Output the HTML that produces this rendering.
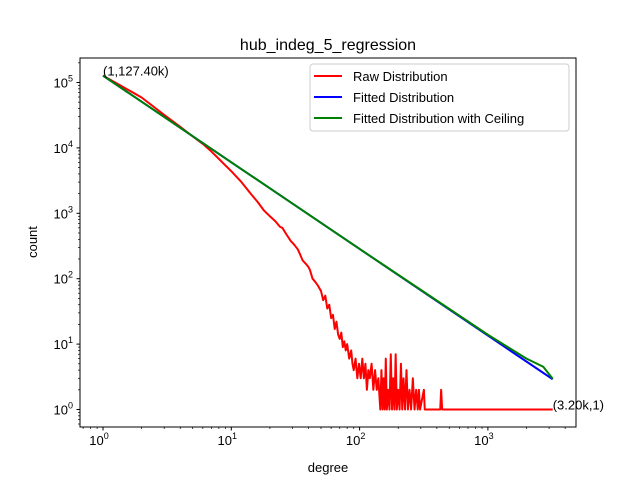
<!DOCTYPE html>
<html><head><meta charset="utf-8"><style>
body{margin:0;background:#fff}
svg{display:block;font-family:"Liberation Sans","DejaVu Sans",sans-serif}
</style></head><body>
<svg id="c" width="640" height="480" xmlns="http://www.w3.org/2000/svg">
<rect x="0" y="0" width="640" height="480" fill="#fff"/>
<text x="328" y="50" font-size="16" text-anchor="middle">hub_indeg_5_regression</text>
<g id="plot"></g>
<rect x="80" y="58" width="496" height="369" fill="none" stroke="#000" stroke-width="1"/>
<text x="328" y="472" font-size="13" text-anchor="middle">degree</text>
<text x="37" y="242" font-size="13" text-anchor="middle" transform="rotate(-90 37 242)">count</text>
<g>
<rect x="310" y="64" width="259" height="67" rx="3" fill="#fff" fill-opacity="0.8" stroke="#ccc"/>
<line x1="314" y1="76" x2="342" y2="76" stroke="red" stroke-width="2"/>
<text x="353" y="81" font-size="13">Raw Distribution</text>
<line x1="314" y1="97" x2="342" y2="97" stroke="blue" stroke-width="2"/>
<text x="353" y="102" font-size="13">Fitted Distribution</text>
<line x1="314" y1="118" x2="342" y2="118" stroke="green" stroke-width="2"/>
<text x="353" y="123" font-size="13">Fitted Distribution with Ceiling</text>
</g>
</svg>
<script>
const rawDeg=[1,2,3,4,5,6,7,8,9,10,12,14,16,18,20,22,24,25,27,29,31,33,34,36,38,40,41,43,45,47,50,52,54,56,58,60,62,64,66,68,70,72,74,76,78,80,83,86,88,90,93,96,99,102,105,108,111,114,117,120,124,128,132,136,140,145,148,151,154,157,160,163,167,171,175,179,183,187,191,195,200,205,210,215,220,226,232,238,245,252,260,268,276,284,290,296,317,322,410,425,432,440,3200];
const rawCnt=[127400,59000,32000,21000,15000,11500,8800,6800,5400,4400,3000,2050,1500,1100,900,760,620,600,470,380,330,280,247,190,170,150,136,100,90,80,65,47,55,35,40,25,28,17,22,14,12,15,9,11,8,10,6,8,5,4,6,3,5,3,6,3,5,2,4,3,5,2,4,2,3,1,4,1,3,1,6,1,2,1,7,1,3,1,7,1,2,1,5,1,3,1,4,1,2,1,3,1,2,1,2,1,2,1,1,1,2,1,1];
const fitDeg=[1,10,100,1000,3200];
const fitCnt=[127400,6030,285,13.5,2.9];
const ceilDeg=[1,10,100,1000,2000,2700,3200];
const ceilCnt=[127400,6030,285,13.9,6.0,4.5,2.95];
const xTicks=[1,10,100,1000];
const xTickLabels=["0","1","2","3"];
const yTicks=[1,10,100,1000,10000,100000];
const yTickLabels=["0","1","2","3","4","5"];
const NS="http://www.w3.org/2000/svg";
const X=d=>103+128.3*Math.log10(d);
const Y=c=>409.5-65.4*Math.log10(c);
const g=document.getElementById('plot');
function el(t,a){const e=document.createElementNS(NS,t);for(const k in a)e.setAttribute(k,a[k]);g.appendChild(e);return e;}
xTicks.forEach((t,i)=>{
 const tk=el('line',{x1:X(t),x2:X(t),y1:427,y2:430.5,stroke:'#000'});
 
 
 const tx=el('text',{x:X(t)-4,y:445,'font-size':13,'text-anchor':'middle'});
 
 
 tx.innerHTML='10<tspan dy="-6" font-size="9">'+xTickLabels[i]+'</tspan>';
 for(let m=2;m<10;m++){const v=t*m;if(X(v)<576){const mt=el('line',{x1:X(v),x2:X(v),y1:427,y2:429,stroke:'#000','stroke-width':0.7});
 
 }}
});
for(let m=7;m<10;m++){const v=0.1*m;if(X(v)>80){const mt=el('line',{x1:X(v),x2:X(v),y1:427,y2:429,stroke:'#000','stroke-width':0.7});
 
 }}
yTicks.forEach((t,i)=>{
 const tk=el('line',{x1:76.5,x2:80,y1:Y(t),y2:Y(t),stroke:'#000'});
 
 
 const tx=el('text',{x:73,y:Y(t)+5,'font-size':13,'text-anchor':'end'});
 
 
 tx.innerHTML='10<tspan dy="-6" font-size="9">'+yTickLabels[i]+'</tspan>';
 for(let m=2;m<10;m++){const v=t*m;if(Y(v)>58){const mt=el('line',{x1:78,x2:80,y1:Y(v),y2:Y(v),stroke:'#000','stroke-width':0.7});
 
 }}
});
for(let m=6;m<10;m++){const v=0.1*m;if(Y(v)<427){const mt=el('line',{x1:78,x2:80,y1:Y(v),y2:Y(v),stroke:'#000','stroke-width':0.7});
 
 }}
function line(ds,cs,col,name){
 const p=el('polyline',{points:ds.map((d,i)=>X(d)+','+Y(cs[i])).join(' '),fill:'none',stroke:col,'stroke-width':2,'stroke-linejoin':'round'});
 
 
}
line(rawDeg,rawCnt,'red','raw-distribution-line');
line(fitDeg,fitCnt,'blue','fitted-distribution-line');
line(ceilDeg,ceilCnt,'green','fitted-ceiling-line');
const a1=el('text',{x:X(rawDeg[0]),y:Y(rawCnt[0]),'font-size':13});


a1.textContent='(1,127.40k)';
const a2=el('text',{x:X(rawDeg[rawDeg.length-1]),y:Y(1),'font-size':13});


a2.textContent='(3.20k,1)';
</script>
</body></html>
